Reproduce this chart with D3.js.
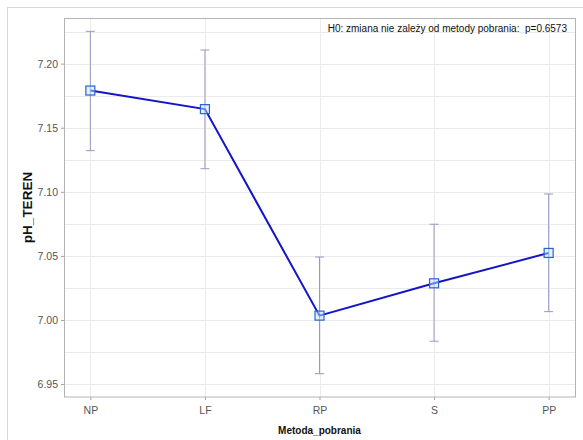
<!DOCTYPE html>
<html>
<head>
<meta charset="utf-8">
<script src="https://cdn.jsdelivr.net/npm/d3@7"></script>
<style>
  body { margin: 0; background: #fff; }
  svg { display: block; font-family: "Liberation Sans", Arial, sans-serif; }
</style>
</head>
<body>
<svg width="583" height="440"></svg>
<script>
var methods = ["NP", "LF", "RP", "S", "PP"];
var means = [7.179, 7.1645, 7.0034, 7.0286, 7.0523];
var upper = [7.2252, 7.2106, 7.0491, 7.0747, 7.0983];
var lower = [7.1321, 7.118, 6.9581, 6.9834, 7.0065];
var yTicks = [6.95, 7.00, 7.05, 7.10, 7.15, 7.20];
var yGrid = [6.95, 6.975, 7.00, 7.025, 7.05, 7.075, 7.10, 7.125, 7.15, 7.175, 7.20, 7.225];

var data = methods.map((m, i) => ({m: m, mean: means[i], hi: upper[i], lo: lower[i]}));

var svg = d3.select("svg"),
    margin = {top: 18, right: 8, bottom: 43, left: 64},
    width = +svg.attr("width") - margin.left - margin.right,
    height = +svg.attr("height") - margin.top - margin.bottom;

// outer frame
svg.append("rect")
    .attr("x", 7.5).attr("y", 7.5)
    .attr("width", 600).attr("height", 450)
    .attr("fill", "none").attr("stroke", "#d6d6d6");

var g = svg.append("g").attr("transform", "translate(" + margin.left + "," + margin.top + ")");

var x = d3.scalePoint()
    .domain(methods)
    .range([0, width])
    .padding(0.23);

var y = d3.scaleLinear()
    .domain([6.9399, 7.2356])
    .range([height, 0]);

// grid
g.append("g").selectAll("line").data(yGrid).join("line")
    .attr("x1", 0).attr("x2", width)
    .attr("y1", d => Math.round(y(d)) + 0.5).attr("y2", d => Math.round(y(d)) + 0.5)
    .attr("stroke", "#ebebeb");

g.append("g").selectAll("line").data(methods).join("line")
    .attr("x1", d => Math.round(x(d)) + 0.5).attr("x2", d => Math.round(x(d)) + 0.5)
    .attr("y1", 0).attr("y2", height)
    .attr("stroke", "#ebebeb");

// axes
var yAxis = g.append("g")
    .call(d3.axisLeft(y).tickValues(yTicks).tickFormat(d3.format(".2f")).tickSize(3).tickPadding(3));
var xAxis = g.append("g")
    .attr("transform", "translate(0," + height + ")")
    .call(d3.axisBottom(x).tickSize(3).tickPadding(7));

[yAxis, xAxis].forEach(function(a) {
  a.select(".domain").remove();
  a.selectAll(".tick line").attr("stroke", "#a0a0a0");
  a.selectAll(".tick text").attr("fill", "#555").style("font-size", "10.5px")
    .style("font-family", "'Liberation Sans', Arial, sans-serif");
});

// plot border
g.append("rect")
    .attr("x", 0.5).attr("y", 0.5)
    .attr("width", width).attr("height", height - 0.5)
    .attr("fill", "none").attr("stroke", "#b4b4b4");

// error bars
var bars = g.append("g").attr("stroke", "#9898c4").attr("stroke-width", 1);
bars.selectAll(".v").data(data).join("line")
    .attr("x1", d => x(d.m)).attr("x2", d => x(d.m))
    .attr("y1", d => y(d.hi)).attr("y2", d => y(d.lo));
bars.selectAll(".hi").data(data).join("line")
    .attr("x1", d => x(d.m) - 4.5).attr("x2", d => x(d.m) + 4.5)
    .attr("y1", d => y(d.hi)).attr("y2", d => y(d.hi));
bars.selectAll(".lo").data(data).join("line")
    .attr("x1", d => x(d.m) - 4.5).attr("x2", d => x(d.m) + 4.5)
    .attr("y1", d => y(d.lo)).attr("y2", d => y(d.lo));

// mean line
var line = d3.line()
    .x(d => x(d.m))
    .y(d => y(d.mean));

g.append("path")
    .datum(data)
    .attr("d", line)
    .attr("fill", "none")
    .attr("stroke", "#1414c8")
    .attr("stroke-width", 2);

g.selectAll(".marker").data(data).join("rect")
    .attr("x", d => x(d.m) - 4.5)
    .attr("y", d => y(d.mean) - 4.5)
    .attr("width", 9).attr("height", 9)
    .attr("fill", "#c6e6fa").attr("fill-opacity", 0.5)
    .attr("stroke", "#2466d6").attr("stroke-width", 1.2);

// annotation
g.append("text")
    .attr("x", width - 8)
    .attr("y", 14)
    .attr("text-anchor", "end")
    .attr("fill", "#111")
    .style("font-size", "10px")
    .text("H0: zmiana nie zależy od metody pobrania:\u00a0\u00a0p=0.6573");

// axis titles
svg.append("text")
    .attr("x", margin.left + width / 2)
    .attr("y", 434)
    .attr("text-anchor", "middle")
    .attr("font-weight", "bold")
    .attr("fill", "#111")
    .style("font-size", "10px")
    .text("Metoda_pobrania");

svg.append("text")
    .attr("transform", "translate(32," + (margin.top + height / 2) + ") rotate(-90)")
    .attr("text-anchor", "middle")
    .attr("font-weight", "bold")
    .attr("fill", "#111")
    .style("font-size", "13.5px")
    .text("pH_TEREN");
</script>
</body>
</html>
